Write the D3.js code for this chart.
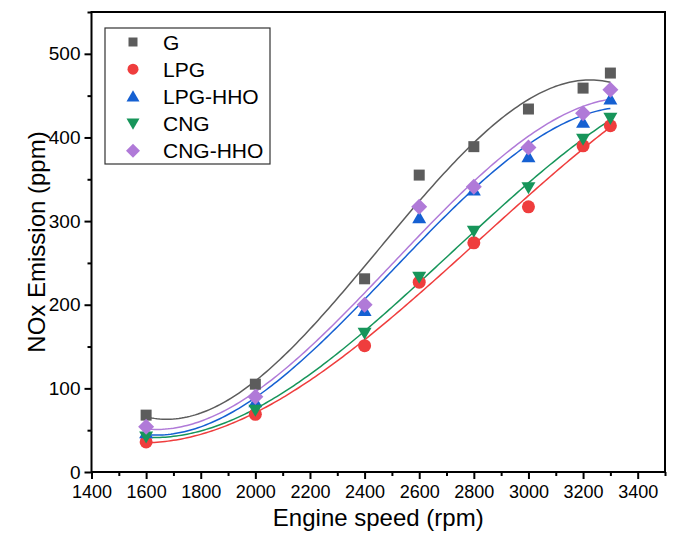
<!DOCTYPE html>
<html>
<head>
<meta charset="utf-8">
<script src="https://cdn.jsdelivr.net/npm/d3@7"></script>
<style>
  html, body { margin: 0; padding: 0; background: #fff; }
  text { font-family: "Liberation Sans", Arial, sans-serif; fill: #000; }
</style>
</head>
<body>
<div id="chart"></div>
<script>
(function(){

    // engine speed (rpm)
    var speeds = [1600, 2000, 2400, 2600, 2800, 3000, 3200, 3300];

    // NOx emission (ppm) per fuel
    var gValues      = [68, 105, 231, 355, 389, 434, 459, 477];
    var lpgValues    = [36, 69, 151, 227, 274, 317, 390, 414];
    var lpgHhoValues = [47, 84, 193, 304, 337, 377, 418, 446];
    var cngValues    = [42, 74, 166, 233, 288, 340, 398, 423];
    var cngHhoValues = [54, 90, 200, 317, 341, 388, 429, 457];

    var seriesNames = ["G", "LPG", "LPG-HHO", "CNG", "CNG-HHO"];
    var xTicks = [1400, 1600, 1800, 2000, 2200, 2400, 2600, 2800, 3000, 3200, 3400];
    var yTicks = [0, 100, 200, 300, 400, 500];

    var series = [
        {name: seriesNames[0], values: gValues,      color: "#5c5c5c", shape: "square"},
        {name: seriesNames[1], values: lpgValues,    color: "#ef3d3d", shape: "circle"},
        {name: seriesNames[2], values: lpgHhoValues, color: "#1560d2", shape: "up"},
        {name: seriesNames[3], values: cngValues,    color: "#17955a", shape: "down"},
        {name: seriesNames[4], values: cngHhoValues, color: "#b07ad8", shape: "diamond"}
    ];

    var width = 674, height = 545;
    var left = 91.5, right = 665, top = 12, bottom = 472;

    var svg = d3.select("#chart").append("svg")
        .attr("width", width)
        .attr("height", height);

    var x = d3.scaleLinear().domain([1400, 3500]).range([left, right]);
    var y = d3.scaleLinear().domain([0, 550]).range([bottom, top]);

    // marker paths, s = size
    function marker(shape, s){
        var h;
        if (shape == "square") {
            h = s / 2;
            return "M" + (-h) + "," + (-h) + "H" + h + "V" + h + "H" + (-h) + "Z";
        }
        if (shape == "circle") {
            h = s / 2;
            return "M" + h + ",0A" + h + "," + h + " 0 1,1 " + (-h) + ",0A" + h + "," + h + " 0 1,1 " + h + ",0Z";
        }
        if (shape == "up") {
            h = s * 0.866;
            return "M0," + (-h * 0.55) + "L" + (s / 2) + "," + (h * 0.45) + "L" + (-s / 2) + "," + (h * 0.45) + "Z";
        }
        if (shape == "down") {
            h = s * 0.866;
            return "M0," + (h * 0.55) + "L" + (s / 2) + "," + (-h * 0.45) + "L" + (-s / 2) + "," + (-h * 0.45) + "Z";
        }
        h = s / 2;
        return "M0," + (-h) + "L" + h + ",0L0," + h + "L" + (-h) + ",0Z";
    }
    var markerSize = {square: 11, circle: 13, up: 14, down: 14, diamond: 16};
    var legendSize = {square: 9, circle: 11, up: 13, down: 13, diamond: 14};

    // cubic least squares fit
    function cubicFit(xs, ys){
        var c = 2450, k = 850;
        var n = 4, A = [], i, j, r;
        for (i = 0; i < n; i++) { A.push([0, 0, 0, 0, 0]); }
        xs.forEach(function(xv, idx){
            var t = (xv - c) / k, p = [1, t, t * t, t * t * t];
            for (i = 0; i < n; i++) {
                for (j = 0; j < n; j++) A[i][j] += p[i] * p[j];
                A[i][4] += p[i] * ys[idx];
            }
        });
        for (i = 0; i < n; i++) {
            var piv = i;
            for (r = i + 1; r < n; r++) if (Math.abs(A[r][i]) > Math.abs(A[piv][i])) piv = r;
            var tmp = A[i]; A[i] = A[piv]; A[piv] = tmp;
            for (r = 0; r < n; r++) {
                if (r == i) continue;
                var f = A[r][i] / A[i][i];
                for (j = i; j <= n; j++) A[r][j] -= f * A[i][j];
            }
        }
        var coef = A.map(function(row, idx){ return row[4] / row[idx]; });
        return function(xv){
            var t = (xv - c) / k;
            return coef[0] + coef[1] * t + coef[2] * t * t + coef[3] * t * t * t;
        };
    }

    var line = d3.line()
        .x(function(d){ return x(d[0]); })
        .y(function(d){ return y(d[1]); })
        .curve(d3.curveLinear);

    var xs = d3.range(speeds[0], speeds[speeds.length - 1] + 1, 10);

    // fit curves
    series.forEach(function(s){
        var fit = cubicFit(speeds, s.values);
        svg.append("path")
            .attr("d", line(xs.map(function(v){ return [v, fit(v)]; })))
            .attr("fill", "none")
            .attr("stroke", s.color)
            .attr("stroke-width", 1.5);
    });

    // points
    series.forEach(function(s){
        svg.append("g").selectAll("path")
            .data(s.values)
            .enter()
            .append("path")
            .attr("d", marker(s.shape, markerSize[s.shape]))
            .attr("transform", function(d, i){ return "translate(" + x(speeds[i]) + "," + y(d) + ")"; })
            .attr("fill", s.color);
    });

    // axes
    var xAxis = svg.append("g")
        .attr("transform", "translate(0," + bottom + ")")
        .call(d3.axisBottom(x).tickValues(xTicks).tickSize(7).tickFormat(d3.format("d")));
    var xMinor = svg.append("g")
        .attr("transform", "translate(0," + bottom + ")")
        .call(d3.axisBottom(x).tickValues(d3.range(1500, 3501, 200)).tickSize(4).tickFormat(""));

    var yAxis = svg.append("g")
        .attr("transform", "translate(" + left + ",0)")
        .call(d3.axisLeft(y).tickValues(yTicks).tickSize(7));
    var yMinor = svg.append("g")
        .attr("transform", "translate(" + left + ",0)")
        .call(d3.axisLeft(y).tickValues(d3.range(50, 551, 100)).tickSize(4).tickFormat(""));

    [xAxis, xMinor, yAxis, yMinor].forEach(function(a){
        a.select(".domain").remove();
        a.selectAll(".tick line").attr("stroke", "#000").attr("stroke-width", 2);
    });
    xAxis.selectAll(".tick text")
        .attr("y", 13)
        .style("font-size", "18px")
        .style("font-family", "'Liberation Sans', Arial, sans-serif");
    yAxis.selectAll(".tick text")
        .attr("x", -11)
        .style("font-size", "19px")
        .style("font-family", "'Liberation Sans', Arial, sans-serif");

    // frame
    svg.append("rect")
        .attr("x", left)
        .attr("y", top)
        .attr("width", right - left)
        .attr("height", bottom - top)
        .attr("fill", "none")
        .attr("stroke", "#000")
        .attr("stroke-width", 2);

    // axis titles
    svg.append("text")
        .attr("x", (left + right) / 2)
        .attr("y", 526)
        .attr("text-anchor", "middle")
        .style("font-size", "24px")
        .text("Engine speed (rpm)");

    svg.append("text")
        .attr("transform", "translate(45," + ((top + bottom) / 2) + ") rotate(-90)")
        .attr("text-anchor", "middle")
        .style("font-size", "24px")
        .text("NOx Emission (ppm)");

    // legend
    var legend = svg.append("g").attr("transform", "translate(105,28)");
    legend.append("rect")
        .attr("width", 165)
        .attr("height", 136)
        .attr("fill", "#fff")
        .attr("stroke", "#333")
        .attr("stroke-width", 1.2);

    var item = legend.selectAll(".legend")
        .data(series)
        .enter()
        .append("g")
        .attr("class", "legend")
        .attr("transform", function(d, i){ return "translate(0," + (14 + i * 27.2) + ")"; });

    item.append("path")
        .attr("transform", "translate(28,0)")
        .attr("d", function(d){ return marker(d.shape, legendSize[d.shape]); })
        .attr("fill", function(d){ return d.color; });

    item.append("text")
        .attr("x", 58)
        .attr("y", 7.5)
        .style("font-size", "21px")
        .text(function(d){ return d.name; });

})();
</script>
</body>
</html>
